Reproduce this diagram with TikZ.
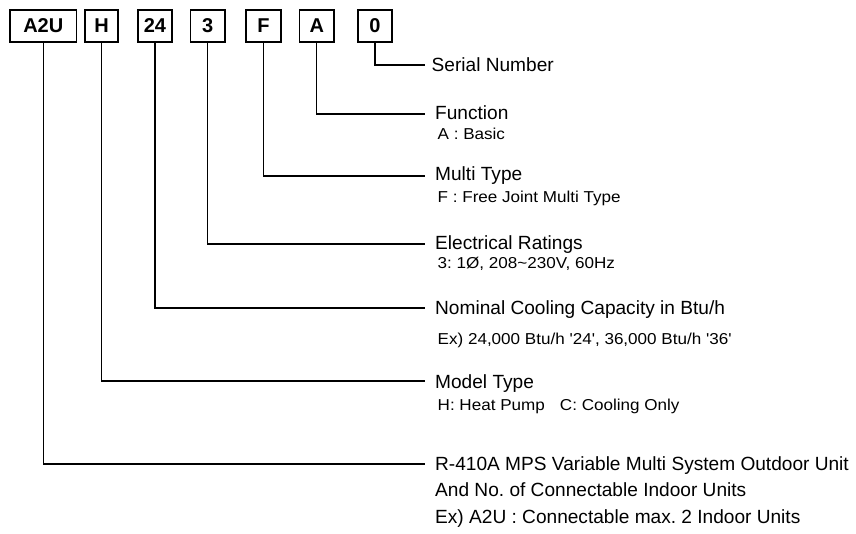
\documentclass[tikz,border=0pt]{standalone}
\usepackage{fontspec}
\usepackage{graphicx}
\setmainfont{Liberation Sans}
\newcommand{\sx}[1]{\scalebox{1.08}[1]{#1}}
\frenchspacing
\begin{document}
\frenchspacing
\begin{tikzpicture}[x=1pt,y=-1pt,
  codebox/.style={draw, line width=1.8pt, minimum height=31.6pt, minimum width=34.5pt, inner sep=0pt, font=\fontsize{20}{22}\selectfont\bfseries},
  mainlbl/.style={anchor=base west, inner sep=0pt, font=\fontsize{19.1}{22}\selectfont},
  sublbl/.style={anchor=base west, inner sep=0pt, font=\fontsize{15.8}{18}\selectfont},
  conn/.style={line width=1.2pt}]
\useasboundingbox (0,0) rectangle (856,534);

% code boxes
\node[codebox, minimum width=66.2pt] (bA2U) at (43.3,26) {A2U};
\node[codebox, minimum width=33.2pt] (bH) at (101.5,26) {H};
\node[codebox] (b24) at (155,26) {24};
\node[codebox] (b3) at (207.8,26) {3};
\node[codebox] (bF) at (263.5,26) {F};
\node[codebox] (bA) at (316.8,26) {A};
\node[codebox] (b0) at (375,26) {0};

% line end points
\coordinate (e0) at (425,65);
\coordinate (e1) at (425,114);
\coordinate (e2) at (425,176);
\coordinate (e3) at (425,244);
\coordinate (e4) at (425,308);
\coordinate (e5) at (425,381);
\coordinate (e6) at (425,464);

% connectors
\draw[conn] (b0.south) |- (e0);
\draw[conn] (bA.south) |- (e1);
\draw[conn] (bF.south) |- (e2);
\draw[conn] (b3.south) |- (e3);
\draw[conn] (b24.south) |- (e4);
\draw[conn] (bH.south) |- (e5);
\draw[conn] (bA2U.south) |- (e6);

% labels
\node[mainlbl] (t0) at (431.5,72) {Serial Number};
\node[mainlbl] (t1) at (435,120) {Function};
\node[sublbl] (s1) at (437.5,140) {\sx{A : Basic}};
\node[mainlbl] (t2) at (435,181) {Multi Type};
\node[sublbl] (s2) at (437.5,203) {\sx{F : Free Joint Multi Type}};
\node[mainlbl] (t3) at (435,250) {Electrical Ratings};
\node[sublbl] (s3) at (437.5,269) {\sx{3: 1Ø, 208\textasciitilde 230V, 60Hz}};
\node[mainlbl] (t4) at (435,315) {Nominal Cooling Capacity in Btu/h};
\node[sublbl] (s4) at (437.5,344.5) {\sx{Ex) 24,000 Btu/h \textquotesingle 24\textquotesingle, 36,000 Btu/h \textquotesingle 36\textquotesingle}};
\node[mainlbl] (t5) at (435,388) {Model Type};
\node[sublbl] (s5) at (437.5,410.5) {\sx{H: Heat Pump\hspace{14pt}C: Cooling Only}};
\node[mainlbl] (t6) at (435,470.5) {R-410A MPS Variable Multi System Outdoor Unit};
\node[mainlbl] (t6b) at (435,496.5) {And No. of Connectable Indoor Units};
\node[mainlbl] (t6c) at (435,523.5) {Ex) A2U : Connectable max. 2 Indoor Units};
\end{tikzpicture}
\end{document}
